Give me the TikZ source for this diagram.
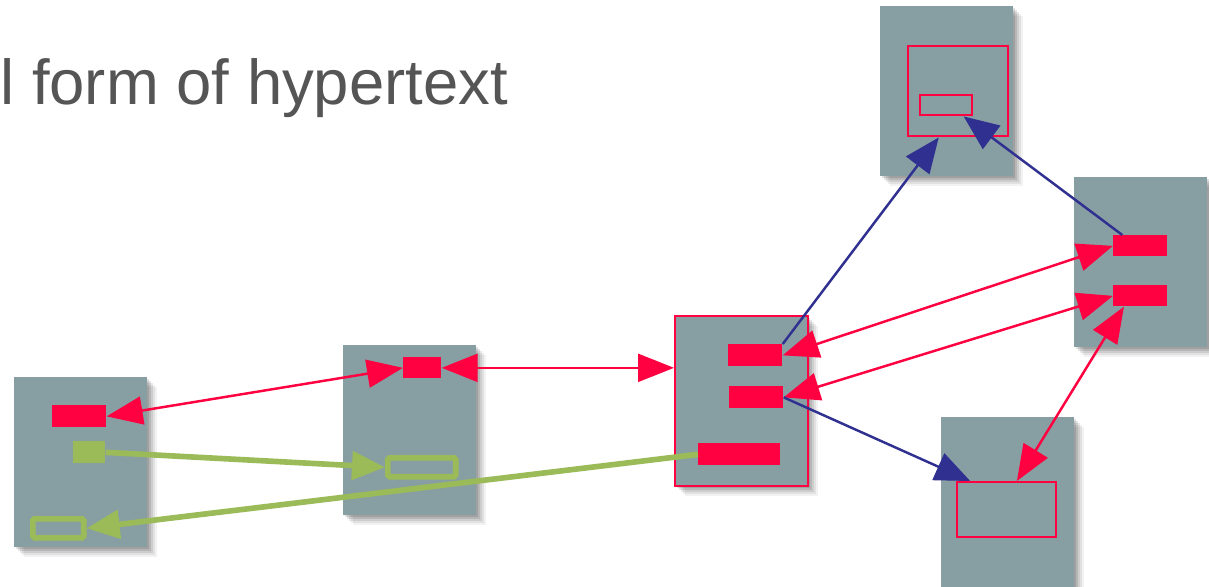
\documentclass[tikz,border=0pt]{standalone}
\usepackage{fontspec}
\newfontfamily\headfont{Liberation Sans}
\usepackage{tikz}
\usetikzlibrary{arrows.meta, positioning, calc, shadows}
\definecolor{pagegray}{HTML}{879FA3}
\definecolor{linkred}{HTML}{FF0040}
\definecolor{linkblue}{HTML}{303090}
\definecolor{linkgreen}{HTML}{9BBB59}
\definecolor{headgray}{HTML}{555555}

\begin{document}
\begin{tikzpicture}[x=0.02cm, y=-0.02cm,
  soft shadow/.style={
    drop shadow={shadow xshift=0.2cm, shadow yshift=-0.2cm, opacity=0.05, fill=black},
    drop shadow={shadow xshift=0.16cm, shadow yshift=-0.16cm, opacity=0.07, fill=black},
    drop shadow={shadow xshift=0.12cm, shadow yshift=-0.12cm, opacity=0.09, fill=black},
    drop shadow={shadow xshift=0.08cm, shadow yshift=-0.08cm, opacity=0.11, fill=black},
    drop shadow={shadow xshift=0.04cm, shadow yshift=-0.04cm, opacity=0.12, fill=black}},
  page/.style={fill=pagegray, minimum width=2.66cm, minimum height=3.4cm,
    anchor=north west, inner sep=0pt, soft shadow},
  blk/.style={fill=#1, inner sep=0pt, anchor=north west},
  blk/.default=linkred,
  frame/.style={draw=#1, inner sep=0pt, anchor=north west},
  redlink/.style={draw=linkred, line width=1.4pt,
    {Triangle[length=0.72cm,width=0.56cm]}-{Triangle[length=0.72cm,width=0.56cm]}},
  bluelink/.style={draw=linkblue, line width=1.4pt,
    -{Triangle[length=0.7cm,width=0.58cm]}},
  greenlink/.style={draw=linkgreen, line width=3.2pt,
    -{Triangle[length=0.66cm,width=0.56cm]}}]
  \useasboundingbox (0,0) rectangle (1209,587);

  \node[font=\headfont\fontsize{36.1}{40}\selectfont, text=headgray,
    anchor=base west, inner sep=0pt] (title) at (0,105) {l form of hypertext};

  % pages
  \node[page] (docL) at (14,377) {};
  \node[page] (docM) at (343,345) {};
  \node[page, draw=linkred, line width=1.4pt] (docC) at (674,315) {};
  \node[page] (docT) at (880,6) {};
  \node[page] (docR) at (1074,177) {};
  \node[page] (docB) at (941,417) {};

  % anchors inside the pages
  \node[blk, minimum width=1.08cm, minimum height=0.44cm] (lr) at (52,405) {};
  \node[blk=linkgreen, minimum width=0.64cm, minimum height=0.44cm] (lg) at (73,441) {};
  \node[frame=linkgreen, line width=3.2pt, rounded corners=1pt,
    minimum width=1.02cm, minimum height=0.38cm] (lbox) at (30,516) {};

  \node[blk, minimum width=0.76cm, minimum height=0.42cm] (mr) at (403,357) {};
  \node[frame=linkgreen, line width=3.2pt, rounded corners=1pt,
    minimum width=1.36cm, minimum height=0.38cm] (mbox) at (385,455) {};

  \node[blk, minimum width=1.08cm, minimum height=0.44cm] (c1) at (728,344) {};
  \node[blk, minimum width=1.08cm, minimum height=0.44cm] (c2) at (729,386) {};
  \node[blk, minimum width=1.64cm, minimum height=0.44cm] (c3) at (698,443) {};

  \node[frame=linkred, line width=1.4pt, minimum width=2.0cm, minimum height=1.8cm] (tbig) at (907,45) {};
  \node[frame=linkred, line width=1.4pt, minimum width=1.04cm, minimum height=0.4cm] (tsmall) at (919,94) {};

  \node[blk, minimum width=1.08cm, minimum height=0.42cm] (r1) at (1113,235) {};
  \node[blk, minimum width=1.08cm, minimum height=0.42cm] (r2) at (1113,285) {};

  \node[frame=linkred, line width=1.4pt, minimum width=1.98cm, minimum height=1.1cm] (bbox) at (956,481) {};

  % links
  \draw[redlink] (lr.east) -- (mr.west);
  \draw[redlink] (mr.east) -- (mr.east -| docC.west);
  \draw[redlink] (c1.east) -- (r1.west);
  \draw[redlink] (c2.east) -- (r2.west);
  \draw[redlink] ($(r2.south west)!0.2!(r2.south east)$) -- ($(bbox.north west)!0.6!(bbox.north east)$);

  \draw[bluelink] (c1.north east) -- ($(tbig.south west)!0.31!(tbig.south east)$);
  \draw[bluelink] ($(r1.north west)!0.17!(r1.north east)$) -- ($(tsmall.south west)!0.82!(tsmall.south east)$);
  \draw[bluelink] (c2.east) -- ($(bbox.north west)!0.14!(bbox.north east)$);

  \draw[greenlink] (lg.east) -- (mbox.west);
  \draw[greenlink] (c3.west) -- (lbox.east);
\end{tikzpicture}
\end{document}
